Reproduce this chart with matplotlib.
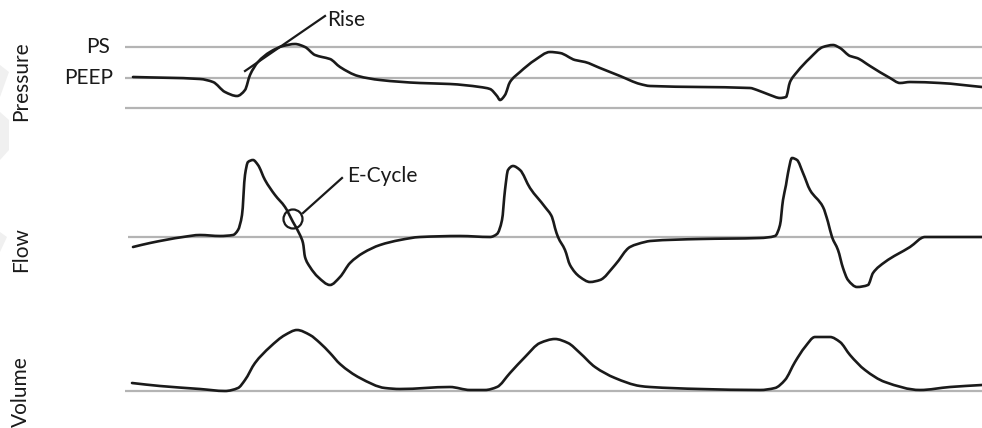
import numpy as np
import matplotlib
matplotlib.use("Agg")
import matplotlib.pyplot as plt
from matplotlib.patches import Polygon, Circle, PathPatch
from matplotlib.path import Path

plt.rcParams['font.family'] = ['Lato', 'DejaVu Sans']

# time axis (arbitrary units, 0 = left edge of the trace area)
pressure_t = [11, 78, 91, 103, 115, 123, 128, 136, 148, 161, 173, 183, 193, 200, 208,
              218, 236, 258, 298, 328, 358, 368, 375, 378, 383, 388, 398, 413, 428, 438,
              453, 463, 478, 498, 518, 528, 578, 628, 635, 648, 658, 664, 668, 675,
              688, 701, 711, 718, 728, 735, 748, 768, 778, 788, 818, 860]
pressure = [31, 29, 26, 16, 12, 18, 33, 46, 56, 62, 64, 61, 53, 51, 49,
            41, 32, 28, 25, 24, 21, 19, 12, 8, 13, 26, 36, 48, 56, 55,
            48, 46, 40, 32, 24, 22, 21, 20, 18, 13, 10, 11, 26, 36,
            50, 61, 63, 60, 52, 50, 42, 30, 25, 26, 25, 21]

flow_t = [11, 28, 61, 78, 98, 111, 116, 120, 123, 126, 131, 136, 143, 153, 163, 171,
          178, 181, 183, 188, 196, 208, 218, 228, 241, 258, 278, 298, 338, 368,
          375, 380, 383, 386, 391, 398, 408, 423, 430, 433, 436, 443, 448, 458, 468,
          478, 493, 508, 523, 528, 578, 638,
          653, 658, 661, 664, 666, 670, 675, 681, 688, 701, 706, 710, 716, 721, 726,
          735, 746, 751, 763, 788, 803, 860]
flow = [-10, -6, 0, 2, 1, 2, 7, 22, 62, 75, 77, 72, 57, 42, 30, 15,
        2, -6, -20, -30, -40, -48, -40, -26, -16, -8, -3, 0, 1, 0,
        3, 17, 47, 67, 71, 67, 49, 30, 20, 9, 0, -13, -28, -40, -45,
        -43, -28, -10, -5, -4, -2, -1,
        1, 12, 37, 52, 64, 79, 77, 64, 47, 30, 15, 0, -13, -31, -43,
        -50, -48, -36, -25, -10, 0, 0]

volume_t = [10, 38, 78, 103, 116, 123, 133, 148, 163, 175, 188, 198, 208, 218, 238,
            263, 278, 328, 348, 363, 375, 388, 403, 418, 433, 446, 458, 473, 493, 518,
            528, 578, 638, 653, 663, 673, 683, 693, 708, 718, 728, 743, 763, 798, 828, 860]
volume = [8, 5, 2, 0, 3, 11, 28, 44, 56, 61, 56, 48, 38, 27, 13,
          3, 2, 4, 1, 1, 4, 18, 34, 48, 52, 48, 38, 24, 13, 5,
          4, 2, 1, 3, 11, 29, 44, 54, 54, 49, 36, 21, 9, 1, 4, 6]

PEEP_LEVEL = 30
PS_LEVEL = 61

INK = '#1a1a1a'
GRID = '#b4b4b4'
FS = 15

fig = plt.figure(figsize=(9.82, 4.28), dpi=100)
W, H = 982.0, 428.0
x0, x1 = 122, 982


def band(top, bottom, base):
    ax = fig.add_axes([x0 / W, 1 - bottom / H, (x1 - x0) / W, (bottom - top) / H])
    ax.set_xlim(0, x1 - x0)
    ax.set_ylim(base - bottom, base - top)
    ax.axis('off')
    return ax


def smooth_trace(ax, t, v, **kw):
    # draw the sampled points joined by monotone cubic (pchip-style) bezier segments
    x = np.asarray(t, float)
    y = np.asarray(v, float)
    h = np.diff(x)
    d = np.diff(y) / h
    m = np.zeros_like(y)
    m[0], m[-1] = d[0], d[-1]
    for i in range(1, len(x) - 1):
        if d[i - 1] * d[i] > 0:
            w1 = 2 * h[i] + h[i - 1]
            w2 = h[i] + 2 * h[i - 1]
            m[i] = (w1 + w2) / (w1 / d[i - 1] + w2 / d[i])
    verts = [(x[0], y[0])]
    codes = [Path.MOVETO]
    for i in range(len(x) - 1):
        verts += [(x[i] + h[i] / 3, y[i] + m[i] * h[i] / 3),
                  (x[i + 1] - h[i] / 3, y[i + 1] - m[i + 1] * h[i] / 3),
                  (x[i + 1], y[i + 1])]
        codes += [Path.CURVE4] * 3
    ax.add_patch(PathPatch(Path(verts, codes), fill=False, **kw))


ax_p = band(0, 140, 108)
ax_f = band(140, 300, 237)
ax_v = band(300, 428, 391)

line_kw = dict(color=GRID, lw=1.6, solid_capstyle='butt', zorder=1)
for lvl in (0, PEEP_LEVEL, PS_LEVEL):
    ax_p.plot([3, x1 - x0], [lvl, lvl], **line_kw)
ax_f.plot([6, x1 - x0], [0, 0], **line_kw)
ax_v.plot([3, x1 - x0], [0, 0], **line_kw)

trace_kw = dict(ec=INK, lw=1.9, joinstyle='round', capstyle='round', zorder=3)
smooth_trace(ax_p, pressure_t, pressure, **trace_kw)
smooth_trace(ax_f, flow_t, flow, **trace_kw)
smooth_trace(ax_v, volume_t, volume, **trace_kw)

# Rise annotation
ax_p.plot([123, 203], [37, 92], color=INK, lw=1.6, zorder=4, clip_on=False)
ax_p.text(205, 88, 'Rise', ha='left', va='center', fontsize=FS, color=INK)

# E-Cycle annotation
ax_f.add_patch(Circle((171, 18), 9.5, fill=False, ec=INK, lw=1.6, zorder=4))
ax_f.plot([181, 220], [24, 59], color=INK, lw=1.6, zorder=4)
ax_f.text(225, 61, 'E-Cycle', ha='left', va='center', fontsize=FS, color=INK)

# level labels
ax_p.text(-12, PS_LEVEL, 'PS', ha='right', va='center', fontsize=FS, color=INK)
ax_p.text(-9, PEEP_LEVEL, 'PEEP', ha='right', va='center', fontsize=FS, color=INK)
for a in (ax_p, ax_f, ax_v):
    for t in a.texts:
        t.set_clip_on(False)

# panel labels
for txt, yc in (('Pressure', 81), ('Flow', 250), ('Volume', 392)):
    fig.text(21 / W, 1 - yc / H, txt, rotation=90, ha='center', va='center',
             fontsize=FS, color=INK)

# faint watermark chevrons on the left edge
for pts in ([(0, 65), (9, 72), (0, 97)], [(0, 112), (9, 120), (9, 150), (0, 160)],
            [(0, 232), (7, 237), (0, 252)]):
    fig.add_artist(Polygon([(px / W, 1 - py / H) for px, py in pts], closed=True,
                           transform=fig.transFigure, fc='#f0f0f0', ec='none', zorder=0))

fig.savefig('out.png', dpi=100)
